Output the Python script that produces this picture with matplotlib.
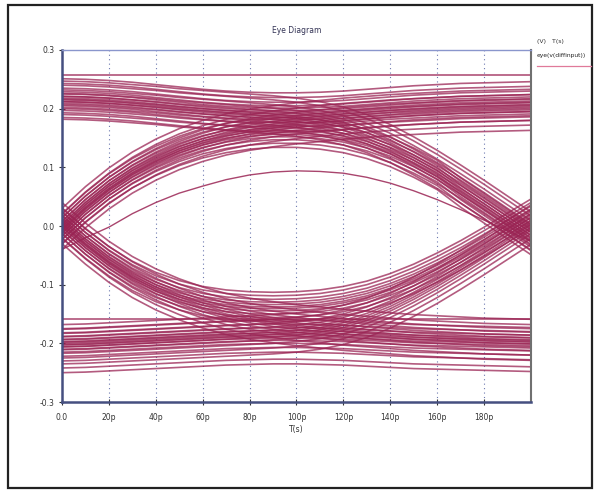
import matplotlib.pyplot as plt
from matplotlib.patches import Rectangle

# time axis (ps)
t_ps = [0, 10, 20, 30, 40, 50, 60, 70, 80, 90, 100,
        110, 120, 130, 140, 150, 160, 170, 180, 190, 200]

# upper half: trace shapes (V)
hh = [.215, .214, .212, .209, .205, .201, .197, .194, .192, .191, .191,
      .192, .194, .197, .200, .203, .205, .207, .208, .209, .210]
lh = [-.005, .032, .064, .091, .113, .131, .145, .156, .164, .170, .175,
      .179, .183, .186, .189, .191, .193, .195, .196, .197, .198]
hl = [.212, .211, .209, .206, .203, .199, .196, .193, .190, .187, .183,
      .177, .168, .155, .138, .117, .094, .069, .043, .016, -.011]
lhl = [-.005, .032, .064, .090, .111, .128, .141, .150, .156, .159, .159,
       .156, .150, .140, .126, .108, .087, .057, .030, .003, -.024]

# lower half
ll = [-.200, -.199, -.197, -.195, -.193, -.191, -.189, -.187, -.186, -.185, -.185,
      -.186, -.187, -.189, -.191, -.193, -.194, -.195, -.196, -.197, -.198]
hl_b = [.005, -.030, -.061, -.087, -.108, -.125, -.139, -.150, -.158, -.164, -.169,
        -.173, -.177, -.180, -.183, -.186, -.188, -.190, -.192, -.193, -.194]
lh_b = [-.200, -.199, -.197, -.195, -.193, -.191, -.189, -.187, -.185, -.183, -.180,
        -.175, -.167, -.155, -.139, -.119, -.097, -.073, -.048, -.022, .004]
hlh = [.005, -.030, -.060, -.085, -.104, -.118, -.128, -.134, -.137, -.138, -.137,
       -.134, -.128, -.119, -.106, -.090, -.071, -.050, -.027, -.003, .021]

# spread of the traces inside each band
off_hh = [-.03, -.022, -.015, -.01, -.006, -.003, 0, .003, .006, .01, .014, .02, .028, .036]
off_lh = [-.035, -.026, -.018, -.012, -.007, -.003, 0, .004, .008, .013, .019, .026, .035]
off_hl = [-.03, -.022, -.015, -.01, -.005, 0, .004, .009, .014, .02, .028, .035]
off_lhl = [-.025, -.018, -.012, -.007, -.003, 0, .004, .008, .013, .019, .025]
off_ll = [-.05, -.042, -.03, -.022, -.015, -.01, -.006, -.003, 0, .003, .007, .012, .018, .025]
off_hl_b = [-.035, -.026, -.018, -.012, -.007, -.003, 0, .004, .008, .013, .019, .026, .035]
off_lh_b = [-.035, -.025, -.017, -.011, -.006, -.002, .002, .006, .011, .017, .024, .032]
off_hlh = [-.025, -.018, -.012, -.007, -.003, 0, .004, .008, .013, .019, .025]

flat_levels = [.257, -.158]
inner_arc = [-.04, -.02, -.002, .021, .040, .056, .068, .079, .087, .092, .094,
             .093, .090, .083, .073, .060, .045, .028, .010, -.008, -.026]

xticks = [0, 20, 40, 60, 80, 100, 120, 140, 160, 180]
xlabels = ['0.0', '20p', '40p', '60p', '80p', '100p', '120p', '140p', '160p', '180p']
yticks = [-0.3, -0.2, -0.1, 0.0, 0.1, 0.2, 0.3]
ylabels = ['-0.3', '-0.2', '-0.1', '0.0', '0.1', '0.2', '0.3']

trace_color = '#9a2454'

fig = plt.figure(figsize=(6, 4.92), dpi=100)
ax = fig.add_axes([0.1033, 0.1829, 0.7817, 0.7155])

groups = [(hh, off_hh), (lh, off_lh), (hl, off_hl), (lhl, off_lhl),
          (ll, off_ll), (hl_b, off_hl_b), (lh_b, off_lh_b), (hlh, off_hlh)]
for shape, offs in groups:
    for d in offs:
        ax.plot(t_ps, [v + d for v in shape], color=trace_color, lw=1.2, alpha=0.75)

for lv in flat_levels:
    ax.plot([t_ps[0], t_ps[-1]], [lv, lv], color=trace_color, lw=1.1, alpha=0.85)
ax.plot(t_ps, inner_arc, color=trace_color, lw=1.0, alpha=0.85)

ax.set_xlim(0, 200)
ax.set_ylim(-0.3, 0.3)
ax.set_xticks(xticks)
ax.set_xticklabels(xlabels)
ax.set_yticks(yticks)
ax.set_yticklabels(ylabels)
ax.tick_params(labelsize=5.5, colors='#333333', direction='inout', length=4, width=0.8)
ax.tick_params(axis='x', pad=6)

# vertical dotted grid only
for xv in xticks[1:]:
    ax.axvline(xv, color='#6c78b0', lw=0.8, ls=(0, (1, 3)), zorder=0)

ax.spines['left'].set_color('#454f80')
ax.spines['left'].set_linewidth(1.8)
ax.spines['bottom'].set_color('#454f80')
ax.spines['bottom'].set_linewidth(1.8)
ax.spines['top'].set_color('#8a96cc')
ax.spines['top'].set_linewidth(1.0)
ax.spines['right'].set_color('#707070')
ax.spines['right'].set_linewidth(1.5)

fig.text(0.494, 0.939, 'Eye Diagram', fontsize=5.5, ha='center', va='center', color='#333355')
ax.set_xlabel('T(s)', fontsize=5.5, color='#333333', labelpad=2)

# legend at the right
fig.text(0.895, 0.915, '(V)   T(s)', fontsize=4.5, ha='left', va='center', color='#333333')
fig.text(0.895, 0.888, 'eye(v(diffinput))', fontsize=4.3, ha='left', va='center',
         color='#222222')
fig.add_artist(plt.Line2D([0.895, 0.985], [0.866, 0.866], color='#e07a9a', lw=0.9))

# outer frame
fig.patches.append(Rectangle((0.0133, 0.0081), 0.9733, 0.9817, transform=fig.transFigure,
                             fill=False, edgecolor='#222222', lw=1.6))

fig.savefig('out.png', dpi=100)
